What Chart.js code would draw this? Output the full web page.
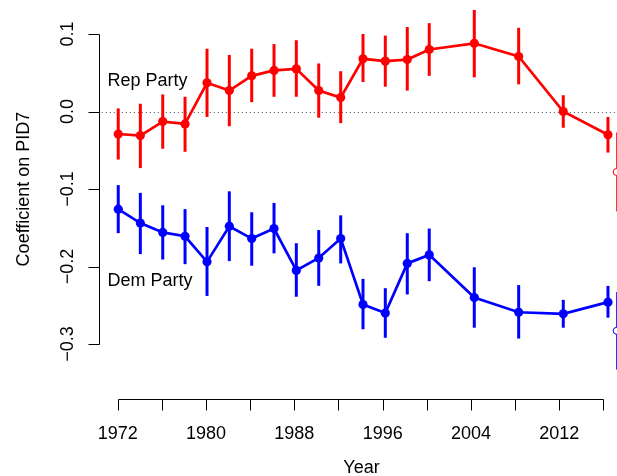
<!DOCTYPE html>
<html>
<head>
<meta charset="utf-8">
<script src="https://cdn.jsdelivr.net/npm/chart.js@4"></script>
<style>
  html, body { margin: 0; padding: 0; background: #fff; }
  canvas { display: block; }
</style>
</head>
<body>
<canvas id="pidChart" width="617" height="476"></canvas>
<script>
// survey positions
const yearX = [1972.05, 1974.05, 1976.08, 1978.1, 1980.09, 1982.11, 1984.14, 1986.16, 1988.18, 1990.21,
               1992.2, 1994.22, 1996.24, 1998.23, 2000.22, 2004.3, 2008.32, 2012.36, 2016.41];

const repEst = [-0.029, -0.031, -0.013, -0.016, 0.037, 0.027, 0.046, 0.053, 0.055, 0.027,
                0.018, 0.068, 0.065, 0.067, 0.080, 0.088, 0.071, 0.000, -0.030];
const repLo  = [-0.062, -0.073, -0.048, -0.052, -0.007, -0.019, 0.012, 0.019, 0.019, -0.008,
                -0.015, 0.038, 0.032, 0.027, 0.046, 0.044, 0.035, -0.021, -0.053];
const repHi  = [0.004, 0.010, 0.022, 0.019, 0.081, 0.073, 0.081, 0.087, 0.092, 0.062,
                0.052, 0.100, 0.098, 0.109, 0.114, 0.131, 0.108, 0.021, -0.007];

const demEst = [-0.126, -0.144, -0.156, -0.161, -0.194, -0.148, -0.164, -0.151, -0.205, -0.189,
                -0.164, -0.249, -0.260, -0.196, -0.185, -0.240, -0.259, -0.261, -0.246];
const demLo  = [-0.157, -0.184, -0.191, -0.197, -0.238, -0.193, -0.199, -0.183, -0.239, -0.225,
                -0.196, -0.281, -0.292, -0.236, -0.219, -0.279, -0.293, -0.279, -0.266];
const demHi  = [-0.095, -0.105, -0.121, -0.126, -0.149, -0.103, -0.130, -0.118, -0.170, -0.153,
                -0.134, -0.216, -0.228, -0.157, -0.151, -0.201, -0.224, -0.243, -0.225];

// the extra open-circle estimate at the right edge
const extraX = [2017.2];
const repExtra = [-0.078], repExtraLo = [-0.129], repExtraHi = [-0.027];
const demExtra = [-0.283], demExtraLo = [-0.333], demExtraHi = [-0.233];

const xTicks = [1972, 1976, 1980, 1984, 1988, 1992, 1996, 2000, 2004, 2008, 2012, 2016];
const xTickLabels = ["1972", "", "1980", "", "1988", "", "1996", "", "2004", "", "2012", ""];
const yTicks = [0.1, 0.0, -0.1, -0.2, -0.3];
const yTickLabels = ["0.1", "0.0", "\u22120.1", "\u22120.2", "\u22120.3"];

const partyLabels = [
    { text: "Rep Party", x: 1971.08, y: 0.033 },
    { text: "Dem Party", x: 1971.08, y: -0.2257 }
];

const FONT = '18px "Liberation Sans", Arial, sans-serif';
const RED = '#ff0000';
const BLUE = '#0000ff';

function pts(xs, ys) {
    return xs.map((x, i) => ({ x: x, y: ys[i] }));
}

// vertical interval lines, drawn under the points
const errorBars = {
    id: 'errorBars',
    beforeDatasetsDraw(chart) {
        const ctx = chart.ctx;
        const xs = chart.scales.x, ys = chart.scales.y;
        chart.data.datasets.forEach(ds => {
            if (!ds.lo) return;
            ctx.save();
            ctx.strokeStyle = ds.borderColor;
            ctx.lineWidth = ds.barWidth;
            ctx.lineCap = 'butt';
            ds.data.forEach((p, i) => {
                const px = xs.getPixelForValue(p.x);
                ctx.beginPath();
                ctx.moveTo(px, ys.getPixelForValue(ds.lo[i]));
                ctx.lineTo(px, ys.getPixelForValue(ds.hi[i]));
                ctx.stroke();
            });
            ctx.restore();
        });
    }
};

// dotted zero line
const zeroLine = {
    id: 'zeroLine',
    beforeDatasetsDraw(chart) {
        const ctx = chart.ctx;
        const y0 = Math.round(chart.scales.y.getPixelForValue(0)) + 0.5;
        const left = chart.scales.x.getPixelForValue(1970.2);
        ctx.save();
        ctx.strokeStyle = '#555';
        ctx.lineWidth = 1;
        ctx.setLineDash([1, 3]);
        ctx.beginPath();
        ctx.moveTo(left, y0);
        ctx.lineTo(chart.width, y0);
        ctx.stroke();
        ctx.restore();
    }
};

// R-style detached axes
const rAxes = {
    id: 'rAxes',
    afterDraw(chart) {
        const ctx = chart.ctx;
        const xs = chart.scales.x, ys = chart.scales.y;
        const axisX = 99.5, axisY = 399.5, tick = 11;
        ctx.save();
        ctx.strokeStyle = '#000';
        ctx.fillStyle = '#000';
        ctx.lineWidth = 1;
        ctx.font = FONT;

        // y axis
        const yTop = Math.round(ys.getPixelForValue(yTicks[0])) + 0.5;
        const yBot = Math.round(ys.getPixelForValue(yTicks[yTicks.length - 1])) + 0.5;
        ctx.beginPath();
        ctx.moveTo(axisX, yTop);
        ctx.lineTo(axisX, yBot);
        yTicks.forEach(v => {
            const py = Math.round(ys.getPixelForValue(v)) + 0.5;
            ctx.moveTo(axisX, py);
            ctx.lineTo(axisX - tick, py);
        });
        ctx.stroke();
        yTicks.forEach((v, i) => {
            const py = ys.getPixelForValue(v);
            ctx.save();
            ctx.translate(72.5, py);
            ctx.rotate(-Math.PI / 2);
            ctx.textAlign = 'center';
            ctx.textBaseline = 'alphabetic';
            ctx.fillText(yTickLabels[i], 0, 0);
            ctx.restore();
        });

        // x axis
        const xL = Math.round(xs.getPixelForValue(xTicks[0])) + 0.5;
        const xR = Math.round(xs.getPixelForValue(xTicks[xTicks.length - 1])) + 0.5;
        ctx.beginPath();
        ctx.moveTo(xL, axisY);
        ctx.lineTo(xR, axisY);
        xTicks.forEach(v => {
            const px = Math.round(xs.getPixelForValue(v)) + 0.5;
            ctx.moveTo(px, axisY);
            ctx.lineTo(px, axisY + tick);
        });
        ctx.stroke();
        ctx.textAlign = 'center';
        ctx.textBaseline = 'alphabetic';
        xTicks.forEach((v, i) => {
            if (xTickLabels[i]) ctx.fillText(xTickLabels[i], xs.getPixelForValue(v), 438.5);
        });

        // titles
        ctx.fillText('Year', 361.5, 472.5);
        ctx.save();
        ctx.translate(28.5, 189);
        ctx.rotate(-Math.PI / 2);
        ctx.fillText('Coefficient on PID7', 0, 0);
        ctx.restore();

        // party labels
        ctx.textAlign = 'left';
        partyLabels.forEach(l => {
            ctx.fillText(l.text, xs.getPixelForValue(l.x), ys.getPixelForValue(l.y));
        });
        ctx.restore();
    }
};

new Chart(document.getElementById('pidChart').getContext('2d'), {
    type: 'line',
    data: {
        datasets: [
            {
                label: 'Rep Party',
                data: pts(yearX, repEst),
                lo: repLo, hi: repHi, barWidth: 3,
                borderColor: RED, backgroundColor: RED,
                borderWidth: 2.7,
                pointRadius: 4.6, pointBorderWidth: 0,
                pointBackgroundColor: RED,
                tension: 0, clip: false
            },
            {
                label: 'Dem Party',
                data: pts(yearX, demEst),
                lo: demLo, hi: demHi, barWidth: 3,
                borderColor: BLUE, backgroundColor: BLUE,
                borderWidth: 2.7,
                pointRadius: 4.6, pointBorderWidth: 0,
                pointBackgroundColor: BLUE,
                tension: 0, clip: false
            },
            {
                label: 'Rep extra',
                data: pts(extraX, repExtra),
                lo: repExtraLo, hi: repExtraHi, barWidth: 1,
                borderColor: RED, backgroundColor: '#fff',
                showLine: false,
                pointRadius: 3.5, pointBorderWidth: 1,
                pointBackgroundColor: '#fff', pointBorderColor: RED,
                clip: false
            },
            {
                label: 'Dem extra',
                data: pts(extraX, demExtra),
                lo: demExtraLo, hi: demExtraHi, barWidth: 1,
                borderColor: BLUE, backgroundColor: '#fff',
                showLine: false,
                pointRadius: 3.5, pointBorderWidth: 1,
                pointBackgroundColor: '#fff', pointBorderColor: BLUE,
                clip: false
            }
        ]
    },
    options: {
        responsive: false,
        animation: false,
        layout: { padding: 0, autoPadding: false },
        plugins: { legend: { display: false }, tooltip: { enabled: false } },
        scales: {
            x: { type: 'linear', min: 1961.339, max: 2017.227, display: false },
            y: { type: 'linear', min: -0.47032, max: 0.143871, display: false }
        }
    },
    plugins: [zeroLine, errorBars, rAxes]
});
</script>
</body>
</html>
